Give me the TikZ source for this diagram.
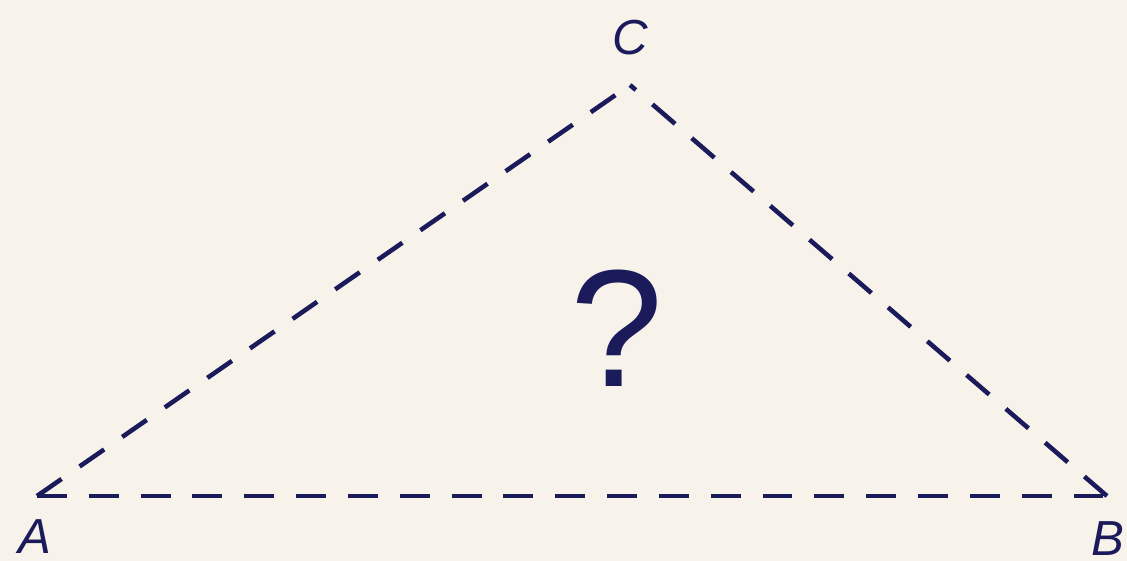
\documentclass[tikz,border=0pt]{standalone}
\usepackage{fontspec}
\setmainfont{Liberation Sans}
\usepackage{xcolor}
\usetikzlibrary{positioning,calc}
\definecolor{navy}{HTML}{1B1B5C}
\definecolor{paper}{HTML}{F8F3EA}
\begin{document}
\begin{tikzpicture}[
    x=0.02cm, y=-0.02cm,
    edge/.style={navy, line width=2.6pt, dash pattern=on 17pt off 12.5pt},
    vlabel/.style={text=navy, font=\fontsize{28}{30}\selectfont\itshape, inner sep=0pt},
    asklabel/.style={text=navy, font=\fontsize{95}{100}\selectfont, inner sep=0pt}
]
\fill[paper] (0,0) rectangle (1127,561);
\useasboundingbox (0,0) rectangle (1127,561);
\coordinate (A) at (37,496);
\coordinate (B) at (1107,496);
\coordinate (C) at (630,85);
\node[vlabel] (labelA) at (35,537) {A};
\node[vlabel] (labelB) at (1108,539) {B};
\node[vlabel] (labelC) at (630,38) {C};
\node[asklabel] (ask) at (617,328) {?};

\draw[edge] (A) -- (B);
\draw[edge] (A) -- (C);
\draw[edge] (B) -- (C);
\end{tikzpicture}
\end{document}
